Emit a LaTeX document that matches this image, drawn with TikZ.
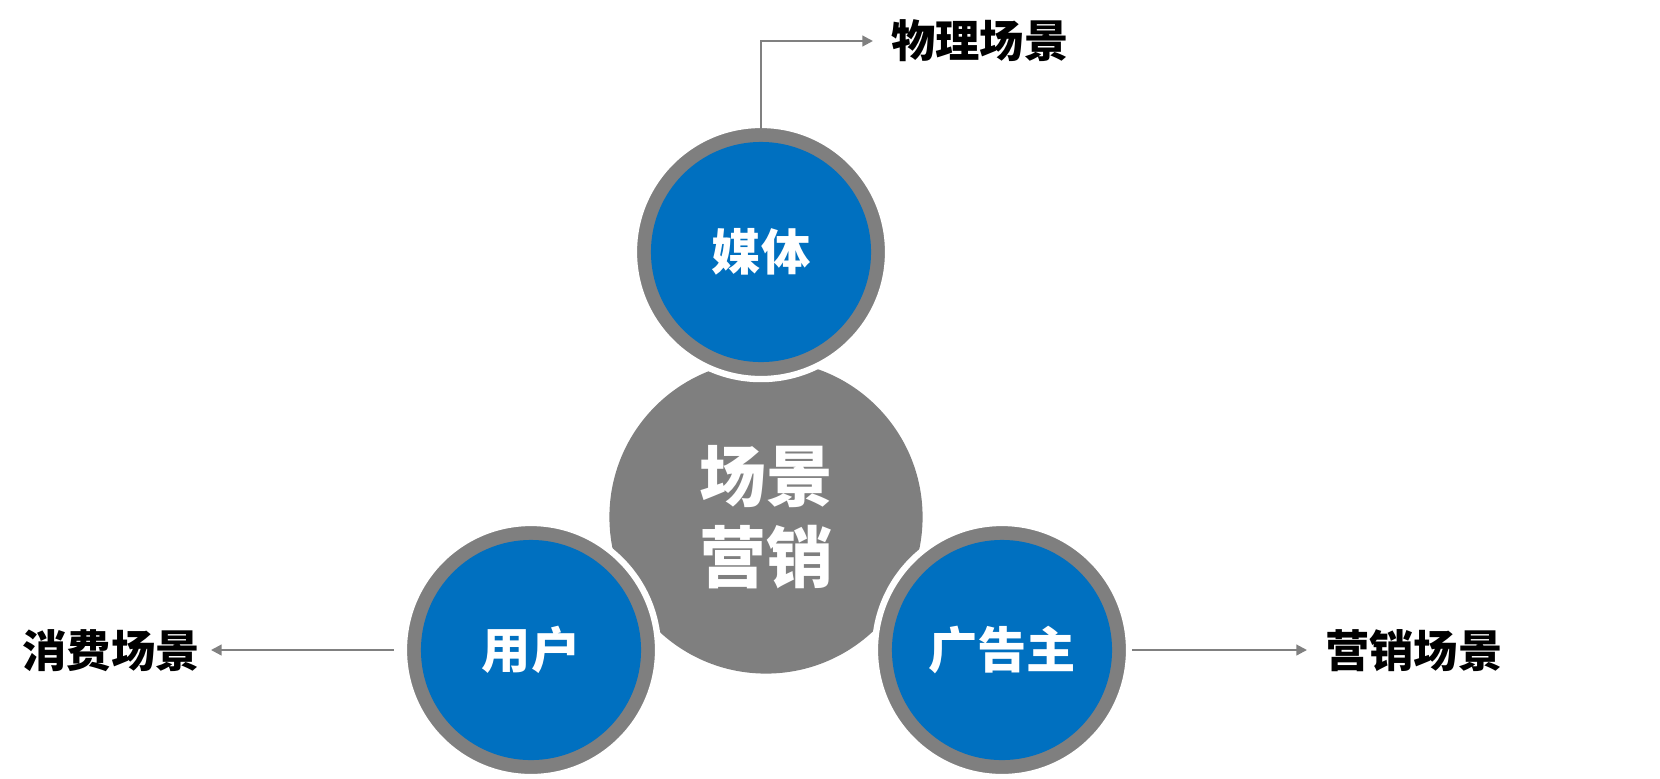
\documentclass[tikz,border=0pt]{standalone}
\usepackage{fontspec}
\setmainfont{Noto Sans CJK SC}
\usepackage{xcolor}
\usetikzlibrary{arrows.meta,positioning,calc}
\definecolor{ringgray}{RGB}{127, 127, 127}
\definecolor{coreblue}{RGB}{0, 112, 192}
\definecolor{linegray}{RGB}{128, 128, 128}

\begin{document}
\begin{tikzpicture}[
  x=0.01cm, y=-0.01cm,
  hubcircle/.style={circle, fill=ringgray, minimum size=3.13cm, inner sep=0pt, align=center, font=\fontsize{19}{23}\selectfont\bfseries, text=white},
  ringcircle/.style={circle, fill=ringgray, draw=white, line width=1.8pt, minimum size=2.54cm, inner sep=0pt},
  corecircle/.style={circle, fill=coreblue, minimum size=2.2cm, inner sep=0pt, font=\fontsize{14}{16}\selectfont\bfseries, text=white},
  scenelabel/.style={inner sep=5pt, font=\fontsize{12.6}{14}\selectfont\bfseries, text=black},
  flow/.style={-{Triangle[length=3pt,width=3pt]}, line width=0.6pt, color=linegray}
]
\useasboundingbox (0,0) rectangle (1660,778);

\node[hubcircle] (hub) at (766,517) {场景\\营销};

\node[ringcircle] (mediaring) at (761,252) {};
\node[corecircle] (media) at (761,252) {媒体};
\node[ringcircle] (userring) at (531,650) {};
\node[corecircle] (user) at (531,650) {用户};
\node[ringcircle] (adring) at (1002,650) {};
\node[corecircle] (ad) at (1002,650) {广告主};

\node[scenelabel, anchor=west] (physical) at (873,41) {物理场景};
\node[scenelabel, anchor=east] (consume) at (218,651) {消费场景};
\node[scenelabel, anchor=west] (marketing) at (1307,651) {营销场景};

\draw[flow] ([yshift=-2.5pt]mediaring.north) |- (physical.west);
\draw[flow] ([xshift=-2pt]userring.west) -- ([xshift=-2pt]userring.west -| consume.east);
\draw[flow] (adring.east) -- (adring.east -| marketing.west);
\end{tikzpicture}
\end{document}
